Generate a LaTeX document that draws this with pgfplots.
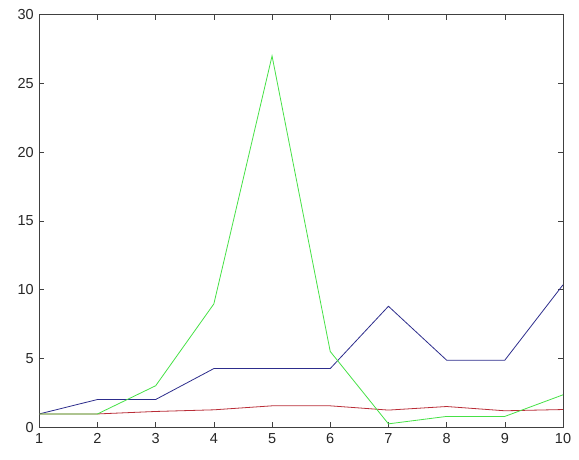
\documentclass[border=0pt]{standalone}
\usepackage{fontspec}
\setmainfont{Liberation Sans}
\usepackage{pgfplots}
\pgfplotsset{compat=1.18}
\definecolor{mblue}{RGB}{45,45,140}
\definecolor{mred}{RGB}{185,45,55}
\definecolor{mgreen}{RGB}{70,225,70}
\begin{document}
\begin{tikzpicture}
\begin{axis}[
  scale only axis,
  width=524pt, height=412.8pt,
  xmin=1, xmax=10, ymin=0, ymax=30,
  xtick={1,...,10}, ytick={0,5,...,30},
  tick align=inside,
  major tick length=5pt,
  axis line style={black!75, line width=0.6pt},
  every tick/.style={black!75, line width=0.6pt},
  tick label style={font=\fontsize{14.5}{16}\selectfont, black!85},
  /pgf/number format/assume math mode=true,
  xticklabel style={yshift=-3pt},
  yticklabel style={xshift=-2pt},
  every axis plot/.append style={line width=0.8pt, mark=none},
]
\addplot[mblue] coordinates {
  (1,0.97) (2,2.02) (3,2.02) (4,4.27) (5,4.27) (6,4.27) (7,8.8) (8,4.88) (9,4.88) (10,10.36)
};
\addplot[mred] coordinates {
  (1,0.97) (2,0.97) (3,1.15) (4,1.27) (5,1.56) (6,1.56) (7,1.25) (8,1.51) (9,1.2) (10,1.29)
};
\addplot[mgreen] coordinates {
  (1,0.97) (2,0.97) (3,3.02) (4,8.97) (5,27.0) (6,5.51) (7,0.25) (8,0.79) (9,0.79) (10,2.36)
};
\end{axis}
\path (current axis.south west) ++(-39.3pt,-32.5pt) coordinate (bl);
\path (current axis.north east) ++(16pt,14.7pt) coordinate (tr);
\end{tikzpicture}
\end{document}
